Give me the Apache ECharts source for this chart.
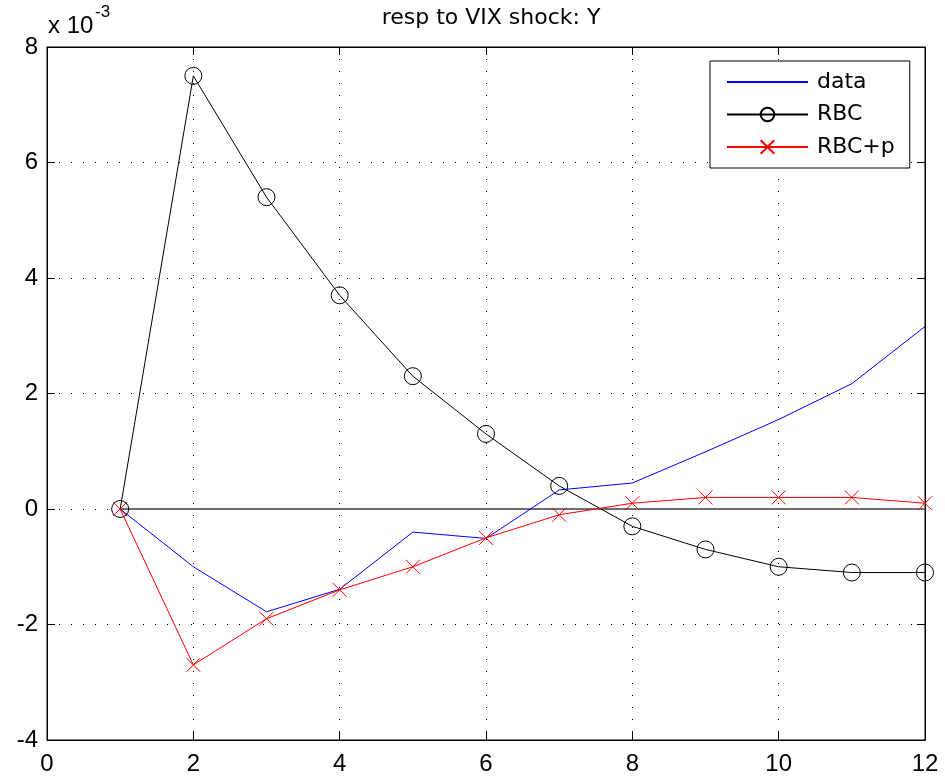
<!DOCTYPE html>
<html>
<head>
<meta charset="utf-8">
<script src="https://cdn.jsdelivr.net/npm/echarts@6/dist/echarts.min.js"></script>
<style>html,body{margin:0;padding:0;background:#fff;}#c{width:945px;height:781px;}</style>
</head>
<body>
<div id="c"></div>
<script>
// values in units of 1e-3
var periods = [1, 2, 3, 4, 5, 6, 7, 8, 9, 10, 11, 12];
var dataVals = [0, -1.0, -1.78, -1.39, -0.4, -0.51, 0.33, 0.45, 0.99, 1.55, 2.17, 3.16];
var rbcVals = [0, 7.5, 5.4, 3.7, 2.3, 1.3, 0.4, -0.3, -0.7, -1.0, -1.1, -1.1];
var rbcpVals = [0, -2.7, -1.9, -1.4, -1.0, -0.5, -0.1, 0.1, 0.2, 0.2, 0.2, 0.1];
var zeroLine = [[1, 0], [12, 0]];
var xTicks = [0, 2, 4, 6, 8, 10, 12];
var yTicks = [-4, -2, 0, 2, 4, 6, 8];

function pairs(v) { return periods.map(function (p, i) { return [p, v[i]]; }); }

var chart = echarts.init(document.getElementById('c'), null, {renderer: 'canvas'});
var gridLine = {show: true, lineStyle: {color: '#000', width: 1, type: [1, 11]}};
var tick = {show: true, inside: true, length: 8, lineStyle: {color: '#000', width: 1}};
var axLine = {show: true, onZero: false, lineStyle: {color: '#000', width: 1}};
var lab = {color: '#000', fontSize: 24, fontFamily: 'Liberation Sans, Arial, sans-serif'};

chart.setOption({
  animation: false,
  backgroundColor: '#fff',
  title: {
    text: 'resp to VIX shock: Y',
    left: 486, top: 2, textAlign: 'center',
    textStyle: {fontSize: 22, fontWeight: 'normal', color: '#000', fontFamily: 'DejaVu Sans, sans-serif'}
  },
  graphic: [{
    type: 'text', x: 48, y: 14,
    style: {text: 'x 10', fontSize: 24, fontFamily: 'Liberation Sans, Arial, sans-serif', fill: '#000', verticalAlign: 'top'}
  }, {
    type: 'text', x: 95, y: 4,
    style: {text: '-3', fontSize: 17, fontFamily: 'Liberation Sans, Arial, sans-serif', fill: '#000', verticalAlign: 'top'}
  }],
  grid: {left: 47, right: 20, top: 47, bottom: 41, show: true, borderColor: '#000', borderWidth: 1, containLabel: false},
  legend: {
    orient: 'vertical', left: 710, top: 61,
    data: [{name: 'data', itemStyle: {opacity: 0}}, 'RBC', 'RBC+p'],
    selectedMode: false,
    backgroundColor: '#fff', borderColor: '#000', borderWidth: 1,
    padding: [10, 15, 10, 16],
    itemWidth: 81, itemHeight: 17, itemGap: 10.5,
    textStyle: {fontSize: 22, color: '#000', fontFamily: 'DejaVu Sans, sans-serif', lineHeight: 22, padding: [0, 0, 0, 4]}
  },
  xAxis: [{
    type: 'value', min: 0, max: 12, interval: 2, position: 'bottom',
    axisLine: axLine, axisTick: tick, splitLine: gridLine,
    axisLabel: Object.assign({margin: 12}, lab)
  }, {
    type: 'value', min: 0, max: 12, interval: 2, position: 'top',
    axisLine: axLine, axisTick: tick, splitLine: {show: false}, axisLabel: {show: false}
  }],
  yAxis: [{
    type: 'value', min: -4, max: 8, interval: 2, position: 'left',
    axisLine: axLine, axisTick: tick, splitLine: gridLine,
    axisLabel: Object.assign({margin: 9}, lab)
  }, {
    type: 'value', min: -4, max: 8, interval: 2, position: 'right',
    axisLine: axLine, axisTick: tick, splitLine: {show: false}, axisLabel: {show: false}
  }],
  series: [{
    name: 'zero', type: 'line', data: zeroLine, symbol: 'none', silent: true, z: 1,
    lineStyle: {color: '#6e6e6e', width: 2}
  }, {
    name: 'data', type: 'line', data: pairs(dataVals), symbol: 'none', z: 3,
    lineStyle: {color: '#0000ff', width: 1}, itemStyle: {color: '#0000ff'}
  }, {
    name: 'RBC', type: 'line', data: pairs(rbcVals), symbol: 'circle', symbolSize: 17, z: 4,
    lineStyle: {color: '#000', width: 1},
    itemStyle: {color: 'rgba(0,0,0,0)', borderColor: '#000', borderWidth: 1}
  }, {
    name: 'RBC+p', type: 'line', data: pairs(rbcpVals), symbol: 'path://M0,0L10,10M10,0L0,10', symbolSize: 14, z: 5,
    lineStyle: {color: '#ff0000', width: 1},
    itemStyle: {color: 'rgba(0,0,0,0)', borderColor: '#ff0000', borderWidth: 1}
  }]
});
</script>
</body>
</html>
